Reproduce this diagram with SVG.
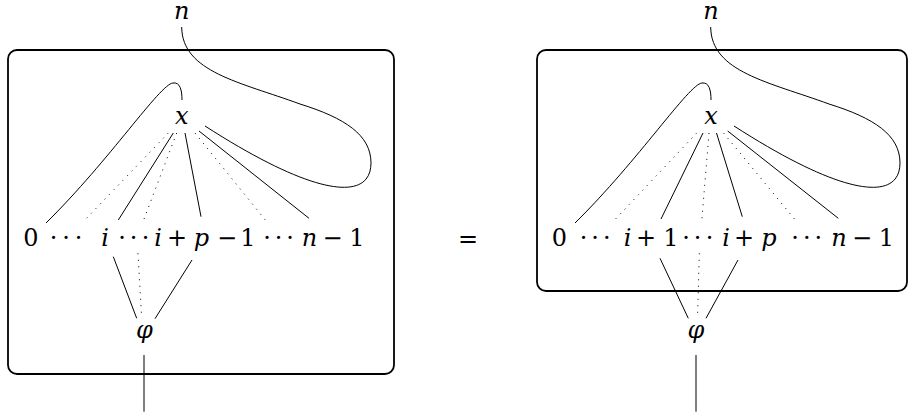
<svg xmlns="http://www.w3.org/2000/svg" width="916" height="417" viewBox="0 0 916 417">
<style>
.box{fill:none;stroke:#000;stroke-width:1.8}
.w{fill:none;stroke:#000;stroke-width:1}
.d{fill:none;stroke:#000;stroke-width:1;stroke-dasharray:1 5.5}
.t{font-family:"DejaVu Serif",serif;font-size:24px;fill:#000;text-anchor:middle}
.it{font-style:italic}
</style>
<rect width="916" height="417" fill="#fff"/>
<!-- Left diagram -->
<g id="left-box"><rect class="box" x="8" y="50" width="386" height="324" rx="9"/></g>
<g id="left-n"><text class="t it" x="181.7" y="19">n</text></g>
<g id="left-x"><text class="t it" x="181.7" y="124">x</text></g>
<g id="left-labels">
<text class="t" x="31" y="246">0</text>
<text class="t" x="53.5 66 78.5" y="246">···</text>
<text class="t it" x="105" y="246">i</text>
<text class="t" x="122 133.5 145.5" y="246">···</text>
<text class="t it" x="158" y="246">i</text>
<text class="t" x="177" y="246">+</text>
<text class="t it" x="201.5" y="246">p</text>
<text class="t" x="227" y="246">−</text>
<text class="t" x="248" y="246">1</text>
<text class="t" x="267 278.5 290" y="246">···</text>
<text class="t it" x="309.5" y="246">n</text>
<text class="t" x="332.5" y="246">−</text>
<text class="t" x="357" y="246">1</text>
</g>
<g id="left-phi"><text class="t it" x="144.5" y="338">φ</text></g>
<g id="left-connectors">
<path class="w" d="M181.7 27 C182 72 240 82 300 104 C345 118 371 135 371 163 C371 200 320 200 205 126"/>
<path class="w" d="M182 100 C182 90 180 82 173 83 C160 84 110 160 46 223"/>
<path class="d" d="M168.3 133 L83.3 221.7"/>
<path class="w" d="M173.3 133 L118.3 220"/>
<path class="d" d="M176.7 133 L142.5 223"/>
<path class="w" d="M185 133 L201 216.7"/>
<path class="d" d="M195 133 L266.7 221.7"/>
<path class="w" d="M199 131 L309 218.3"/>
<path class="w" d="M113.3 256.7 L136.7 318.3"/>
<path class="d" d="M138 253.3 L141.7 318.3"/>
<path class="w" d="M192 260 L155 318.7"/>
<path class="w" d="M144 355 L144 411.7"/>
</g>
<g id="equals"><text class="t" x="468" y="247">=</text></g>
<!-- Right diagram -->
<g id="right-box"><rect class="box" x="537" y="50" width="370" height="241" rx="9"/></g>
<g id="right-n"><text class="t it" x="711" y="19">n</text></g>
<g id="right-x"><text class="t it" x="711" y="124">x</text></g>
<g id="right-labels">
<text class="t" x="559.5" y="246">0</text>
<text class="t" x="583.5 595 606.7" y="246">···</text>
<text class="t it" x="627.5" y="246">i</text>
<text class="t" x="646" y="246">+</text>
<text class="t" x="671" y="246">1</text>
<text class="t" x="686 697.5 709.5" y="246">···</text>
<text class="t it" x="726" y="246">i</text>
<text class="t" x="744" y="246">+</text>
<text class="t it" x="769" y="246">p</text>
<text class="t" x="795 806.7 818.3" y="246">···</text>
<text class="t it" x="839" y="246">n</text>
<text class="t" x="862" y="246">−</text>
<text class="t" x="886.5" y="246">1</text>
</g>
<g id="right-phi"><text class="t it" x="696" y="338">φ</text></g>
<g id="right-connectors">
<path class="w" d="M710.7 27 C711 72 769 82 829 104 C874 118 900 135 900 163 C900 200 849 200 734 126"/>
<path class="w" d="M711 100 C711 90 709 82 702 83 C689 84 639 160 575 223"/>
<path class="d" d="M696.7 133 L613 221.7"/>
<path class="w" d="M703 133 L661 219"/>
<path class="d" d="M709 133 L701.7 221.7"/>
<path class="w" d="M716.5 133 L742.3 216.7"/>
<path class="d" d="M723.5 133 L796.7 221.7"/>
<path class="w" d="M727.7 131 L838.3 218.3"/>
<path class="w" d="M660 258.3 L688.3 318.3"/>
<path class="d" d="M699.3 253.3 L697.5 318.3"/>
<path class="w" d="M738 260 L706 318.3"/>
<path class="w" d="M696 355 L696 411.7"/>
</g>
</svg>
